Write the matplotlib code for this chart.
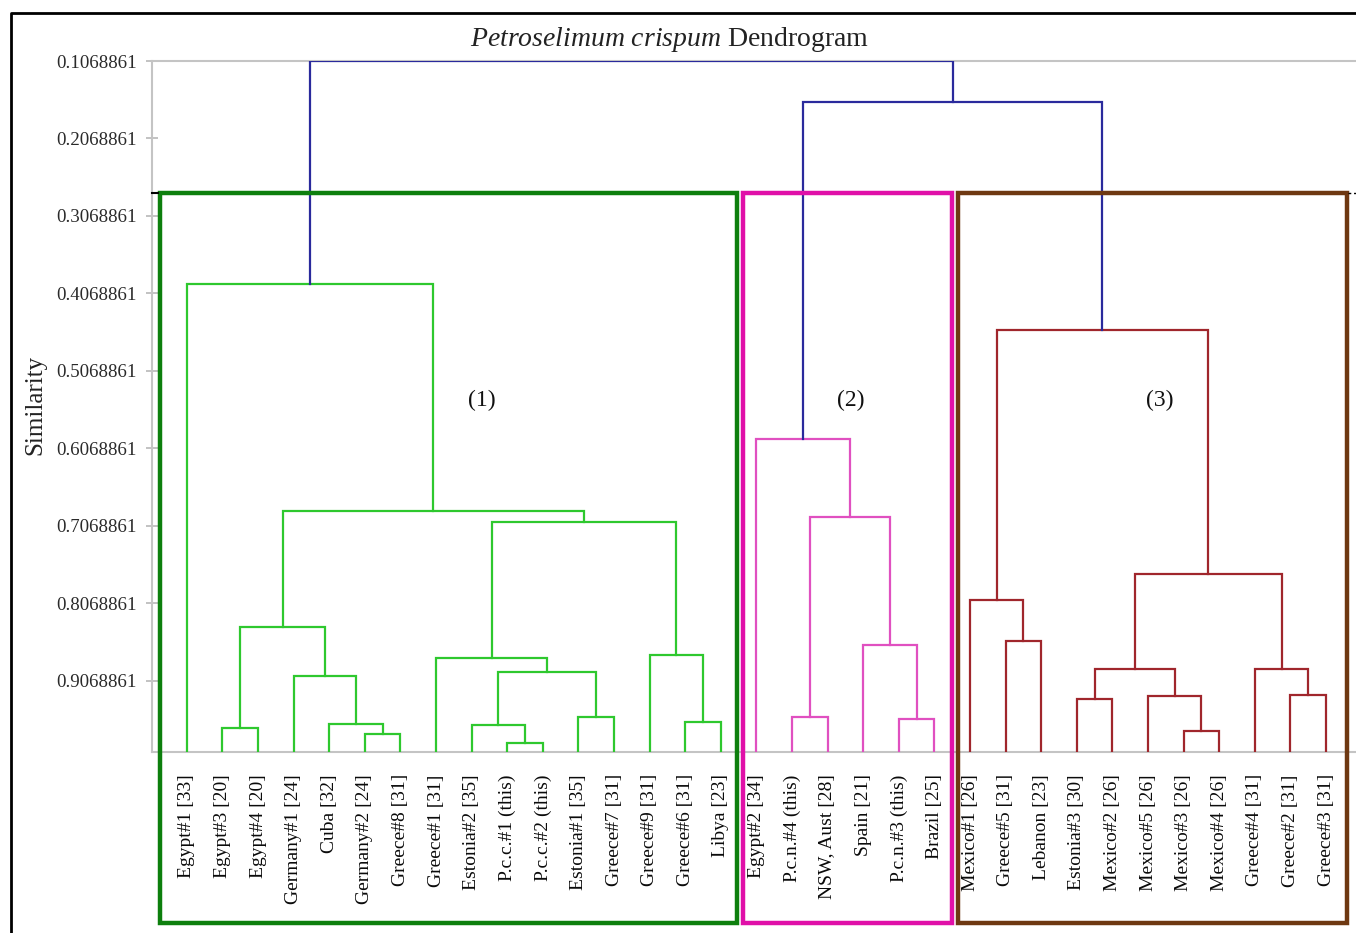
import matplotlib
matplotlib.use("Agg")
import matplotlib.pyplot as plt
from matplotlib.patches import Rectangle
from matplotlib.lines import Line2D

plt.rcParams['font.family'] = ['Liberation Serif', 'DejaVu Serif']
plt.rcParams['mathtext.fontset'] = 'custom'
plt.rcParams['mathtext.rm'] = 'Liberation Serif'
plt.rcParams['mathtext.it'] = 'Liberation Serif:italic'

# ---------------- data ----------------
leaf_labels = [
    "Egypt#1 [33]", "Egypt#3 [20]", "Egypt#4 [20]", "Germany#1 [24]", "Cuba [32]",
    "Germany#2 [24]", "Greece#8 [31]", "Greece#1 [31]", "Estonia#2 [35]",
    "P.c.c.#1 (this)", "P.c.c.#2 (this)", "Estonia#1 [35]", "Greece#7 [31]",
    "Greece#9 [31]", "Greece#6 [31]", "Libya [23]",
    "Egypt#2 [34]", "P.c.n.#4 (this)", "NSW, Aust [28]", "Spain [21]",
    "P.c.n.#3 (this)", "Brazil [25]",
    "Mexico#1 [26]", "Greece#5 [31]", "Lebanon [23]", "Estonia#3 [30]",
    "Mexico#2 [26]", "Mexico#5 [26]", "Mexico#3 [26]", "Mexico#4 [26]",
    "Greece#4 [31]", "Greece#2 [31]", "Greece#3 [31]",
]
leaf_similarity = 1.0

# merges: (child_a, child_b, similarity, colour group); ids 0..32 are leaves, then 33+k
merge_a = [9, 8, 11, 34, 7, 14, 13, 37, 5, 4, 3, 1, 44, 45, 0,
           17, 20, 19, 48, 16,
           23, 22, 25, 28, 27, 55, 31, 30, 58, 54,
           52, 47]
merge_b = [10, 33, 12, 35, 36, 15, 38, 39, 6, 41, 42, 2, 43, 40, 46,
           18, 21, 49, 50, 51,
           24, 53, 26, 29, 56, 57, 32, 59, 60, 61,
           62, 63]
merge_sim = [0.9869, 0.9637, 0.9533, 0.8953, 0.8772, 0.9598, 0.8733, 0.7017,
             0.9753, 0.9624, 0.9004, 0.9675, 0.8372, 0.6875, 0.3946,
             0.9533, 0.9560, 0.8604, 0.6953, 0.5946,
             0.8553, 0.8024, 0.9301, 0.9714, 0.9262, 0.8914, 0.9250, 0.8914,
             0.7688, 0.4540,
             0.1598, 0.1068861]
merge_group = ['g1'] * 15 + ['g2'] * 5 + ['g3'] * 10 + ['top'] * 2

ytick_values = [0.1068861, 0.2068861, 0.3068861, 0.4068861, 0.5068861,
                0.6068861, 0.7068861, 0.8068861, 0.9068861]
ytick_labels = ["0.1068861", "0.2068861", "0.3068861", "0.4068861", "0.5068861",
                "0.6068861", "0.7068861", "0.8068861", "0.9068861"]

cluster_names = ["(1)", "(2)", "(3)"]

# ---------------- styles ----------------
line_colors = {'g1': '#2ec82e', 'g2': '#e050c0', 'g3': '#a0262c', 'top': '#2a2a9c'}
box_colors = ['#0d7f0d', '#e010a8', '#6e3812']

W, H = 1356, 933
fig = plt.figure(figsize=(W / 100, H / 100), dpi=100)
ax = fig.add_axes([152 / W, 1 - 752 / H, 1204 / W, 691 / H])

n = len(leaf_labels)
pos = {i: float(i) for i in range(n)}
hgt = {i: leaf_similarity for i in range(n)}
for k, (a, b, s, g) in enumerate(zip(merge_a, merge_b, merge_sim, merge_group)):
    nid = n + k
    xa, xb = pos[a], pos[b]
    ax.plot([xa, xa, xb, xb], [hgt[a], s, s, hgt[b]], color=line_colors[g],
            lw=1.6, solid_joinstyle='miter', zorder=3)
    pos[nid] = (xa + xb) / 2
    hgt[nid] = s

ax.set_xlim(-0.98, 32.84)
ax.set_ylim(leaf_similarity - 0.0015, 0.1068861)

ax.set_xticks(range(n))
ax.set_xticklabels(leaf_labels, rotation=90, fontsize=14, color='#0a0a0a')
ax.tick_params(axis='x', length=0, pad=16)
ax.set_yticks(ytick_values)
ax.set_yticklabels(ytick_labels, fontsize=13.6, color='#2a2a2a')
ax.tick_params(axis='y', direction='inout', length=8, width=1.2, color='#b8b8b8', pad=7)

for side in ['left', 'top', 'bottom']:
    ax.spines[side].set_color('#c4c4c4')
    ax.spines[side].set_linewidth(1.5)
ax.spines['right'].set_visible(False)

# cluster boxes
box_top, box_bottom = 0.2772, 1.2191
box_x = [(-0.76, 15.45), (15.62, 21.49), (21.66, 32.58)]
for (x0, x1), c in zip(box_x, box_colors):
    ax.add_patch(Rectangle((x0, box_top), x1 - x0, box_bottom - box_top, fill=False,
                           edgecolor=c, lw=3.2, clip_on=False, zorder=4))

# cut-line ends
ax.plot([-0.98, -0.80], [box_top, box_top], color='black', lw=1.5, clip_on=False, zorder=5)
ax.plot([32.62, 32.84], [box_top, box_top], color='black', lw=1.0, ls=(0, (2, 2)),
        clip_on=False, zorder=5)

# cluster labels
label_x = [8.29, 18.65, 27.33]
for name, xx in zip(cluster_names, label_x):
    ax.text(xx, 0.5443, name, fontsize=17, ha='center', va='center', color='#111111')

# title and y label
fig.text(670 / W, 1 - 39 / H, r"$\mathit{Petroselimum\ crispum}$ Dendrogram",
         fontsize=20, ha='center', va='center', color='#222222')
fig.text(35 / W, 1 - 405 / H, "Similarity", rotation=90, fontsize=18,
         ha='center', va='center', color='#222222')

# outer frame
fig.add_artist(Line2D([11 / W, 11 / W, 1.0], [0, 1 - 13 / H, 1 - 13 / H],
                      transform=fig.transFigure, color='black', lw=2))

fig.savefig("out.png", dpi=100)
